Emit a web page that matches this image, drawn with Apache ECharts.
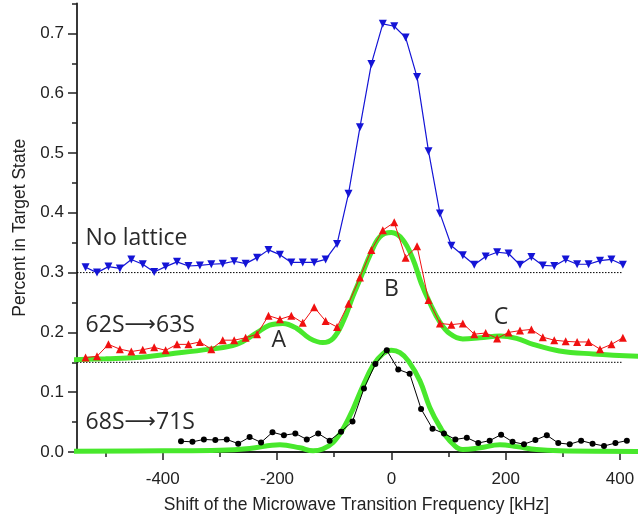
<!DOCTYPE html>
<html><head><meta charset="utf-8">
<script src="https://cdn.jsdelivr.net/npm/echarts@6/dist/echarts.min.js"></script>
<style>html,body{margin:0;padding:0;background:#fff}#c{width:638px;height:519px}</style>
</head><body><div id="c"></div>
<script>
// shift grid (kHz) for "No lattice" and 62S->63S
const shiftA = [-535,-515,-495,-475,-455,-435,-415,-395,-375,-355,-335,-315,-295,-275,-255,-235,-215,-195,-175,-155,-135,-115,-95,-75,-55,-35,-15,5,25,45,65,85,105,125,145,165,185,205,225,245,265,285,305,325,345,365,385,405];
const noLattice = [0.309,0.300,0.310,0.307,0.322,0.314,0.301,0.310,0.318,0.311,0.312,0.314,0.315,0.319,0.315,0.325,0.338,0.330,0.317,0.317,0.317,0.322,0.348,0.432,0.543,0.649,0.716,0.712,0.693,0.627,0.503,0.399,0.345,0.329,0.313,0.327,0.334,0.332,0.313,0.326,0.312,0.311,0.322,0.314,0.314,0.320,0.322,0.313];
const s62to63 = [0.158,0.160,0.180,0.172,0.168,0.171,0.175,0.170,0.180,0.180,0.184,0.172,0.187,0.187,0.191,0.197,0.228,0.222,0.228,0.216,0.242,0.219,0.209,0.248,0.292,0.338,0.371,0.384,0.325,0.344,0.254,0.215,0.213,0.215,0.197,0.199,0.190,0.200,0.203,0.205,0.192,0.187,0.185,0.184,0.184,0.172,0.180,0.191];
// shift grid (kHz) for 68S->71S
const shiftB = [-368,-348,-328,-308,-288,-268,-248,-228,-208,-188,-168,-148,-128,-108,-88,-68,-48,-28,-8,12,32,52,72,92,112,132,152,172,192,212,232,252,272,292,312,332,352,372,392,412];
const s68to71 = [0.018,0.017,0.021,0.020,0.021,0.014,0.025,0.016,0.033,0.028,0.031,0.021,0.031,0.019,0.034,0.051,0.106,0.147,0.170,0.138,0.131,0.072,0.039,0.031,0.021,0.024,0.015,0.019,0.029,0.017,0.013,0.020,0.028,0.015,0.013,0.019,0.014,0.010,0.015,0.019];
// fit curves
const fit62X = [-565,-500,-446,-388,-318,-271,-236,-213,-190,-166,-143,-120,-102,-85,-67,-50,-38,-20,0,20,38,52,67,85,102,125,155,190,219,248,294,353,432];
const fit62Y = [0.154,0.156,0.158,0.164,0.172,0.180,0.199,0.212,0.215,0.207,0.190,0.183,0.190,0.217,0.261,0.300,0.328,0.360,0.367,0.355,0.322,0.283,0.250,0.217,0.198,0.189,0.191,0.194,0.190,0.180,0.169,0.164,0.160];
const fit68X = [-565,-400,-300,-248,-195,-160,-137,-120,-102,-85,-67,-50,-32,-15,0,15,30,50,67,85,102,125,155,190,219,254,294,432];
const fit68Y = [0.001,0.002,0.003,0.006,0.012,0.007,0.002,0.005,0.016,0.038,0.072,0.110,0.145,0.164,0.170,0.166,0.152,0.119,0.075,0.042,0.019,0.004,0.007,0.012,0.009,0.004,0.002,0.001];
// dotted baselines
const baseLevels = [0.3, 0.15];
const baseRange = [-550, 405];
// ticks
const xMajor = [-400,-200,0,200,400];
const xMinor = [-500,-300,-100,100,300];
const yMajor = [0,0.1,0.2,0.3,0.4,0.5,0.6,0.7];
const yMinor = [0.05,0.15,0.25,0.35,0.45,0.55,0.65,0.75];
// annotations
const annoText = ['No lattice','62S→63S','68S→71S','A','B','C'];
const annoX = [-535,-535,-535,-197,0,192];
const annoY = [0.357,0.212,0.049,0.186,0.271,0.225];

const zip = (xs, ys) => xs.map((x, i) => [x, ys[i]]);
const chart = echarts.init(document.getElementById('c'));
const axisFont = 'Liberation Sans, Arial, sans-serif';
const lineCol = '#222';
const X_MIN = -550, X_MAX = 428, Y_MIN = 0, Y_MAX = 0.75;
const series = [];
baseLevels.forEach(v => series.push({type:'line', data:[[baseRange[0], v],[baseRange[1], v]], symbol:'none', silent:true,
  lineStyle:{color:'#000', width:1, type:[1.5,1.5]}}));
series.push({type:'line', data:zip(fit62X, fit62Y), smooth:0.4, symbol:'none', clip:false, lineStyle:{color:'#48e82c', width:5}});
series.push({type:'line', data:zip(fit68X, fit68Y), smooth:0.4, symbol:'none', clip:false, lineStyle:{color:'#48e82c', width:5}});
series.push({type:'line', data:zip(shiftA, noLattice), symbol:'triangle', symbolRotate:180, symbolSize:8,
  lineStyle:{color:'#1414d6', width:1.2}, itemStyle:{color:'#1414d6'}});
series.push({type:'line', data:zip(shiftA, s62to63), symbol:'triangle', symbolSize:8,
  lineStyle:{color:'#f01010', width:1}, itemStyle:{color:'#f01010'}});
series.push({type:'line', data:zip(shiftB, s68to71), symbol:'circle', symbolSize:6,
  lineStyle:{color:'#000', width:1}, itemStyle:{color:'#000'}});

const tickAxisY = (vals, len) => ({type:'value', min:Y_MIN, max:Y_MAX, position:'left', splitLine:{show:false},
  axisLine:{show:false, onZero:true, onZeroAxisIndex:1},
  axisTick:{show:true, inside:false, length:len, customValues:vals, lineStyle:{color:lineCol, width:1.5}},
  axisLabel:{show:false}});
const tickAxisX = (vals, len) => ({type:'value', min:X_MIN, max:X_MAX, position:'bottom', splitLine:{show:false},
  axisLine:{show:false, onZero:true, onZeroAxisIndex:0},
  axisTick:{show:true, inside:false, length:len, customValues:vals, lineStyle:{color:lineCol, width:1.5}},
  axisLabel:{show:false}});

chart.setOption({
  animation:false,
  backgroundColor:'#fff',
  grid:{left:77, right:2, top:3.5, bottom:60.3, containLabel:false},
  xAxis:[
    {type:'value', min:X_MIN, max:X_MAX, position:'bottom', splitLine:{show:false},
      axisLine:{show:true, onZero:true, onZeroAxisIndex:0, lineStyle:{color:lineCol, width:1.8}},
      axisTick:{show:false},
      axisLabel:{show:true, customValues:xMajor, margin:19, fontSize:17, fontFamily:axisFont, color:'#222'},
      name:'Shift of the Microwave Transition Frequency [kHz]', nameLocation:'middle', nameGap:44,
      nameTextStyle:{fontSize:17.5, fontFamily:axisFont, color:'#222'}},
    // helper axis whose zero sits at the left edge of the plot (pins the y axes there)
    {type:'value', min:0, max:X_MAX - X_MIN, position:'bottom', show:false},
    tickAxisX(xMajor, 8),
    tickAxisX(xMinor, 5)
  ],
  yAxis:[
    {type:'value', min:Y_MIN, max:Y_MAX, position:'left', splitLine:{show:false},
      axisLine:{show:true, onZero:true, onZeroAxisIndex:1, lineStyle:{color:lineCol, width:1.8}},
      axisTick:{show:false},
      axisLabel:{show:true, customValues:yMajor, margin:13, fontSize:17, fontFamily:axisFont, color:'#222',
        formatter: v => Number(v).toFixed(1)},
      name:'Percent in Target State', nameLocation:'middle', nameGap:41, nameRotate:90,
      nameTextStyle:{fontSize:17.5, fontFamily:axisFont, color:'#222'}},
    tickAxisY(yMajor, 9),
    tickAxisY(yMinor, 5)
  ],
  series: series
});

const annoFont = 'Open Sans, Noto Sans, sans-serif';
const graphics = annoText.map((t, i) => {
  const p = chart.convertToPixel({xAxisIndex:0, yAxisIndex:0}, [annoX[i], annoY[i]]);
  const left = i < 3;
  const hasArrow = t.indexOf('→') >= 0;
  const txt = hasArrow ? t.split('→').map(s => '{t|' + s + '}').join('{a|⟶}') : t;
  return {type:'text', x:p[0], y:p[1], z:10,
    style:{text:txt, fill:'#2a2a2a', font:'23px ' + annoFont,
      align: left ? 'left' : 'center', verticalAlign:'middle',
      rich: hasArrow ? {t:{fontSize:23, fontFamily:annoFont, fill:'#2a2a2a'}, a:{fontSize:22, fontFamily:'DejaVu Sans', fill:'#2a2a2a'}} : undefined}};
});
chart.setOption({graphic: graphics});
</script>
</body></html>
